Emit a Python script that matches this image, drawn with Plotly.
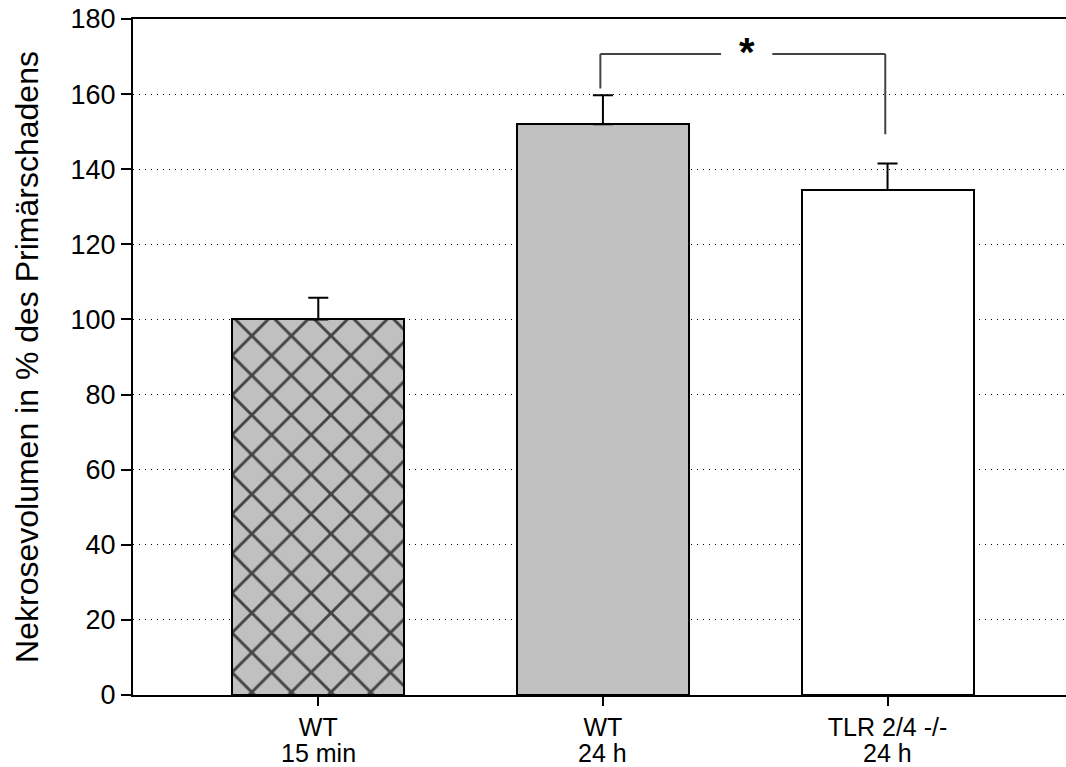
import plotly.graph_objects as go

# Group labels and measurements
groups = ["WT", "WT", "TLR 2/4 -/-"]
timepoints = ["15 min", "24 h", "24 h"]
means = [100.0, 152.0, 134.5]
sem_up = [5.8, 7.7, 7.0]
fills = ["#c0c0c0", "#c0c0c0", "#ffffff"]
patterns = ["x", "", ""]
y_ticks = [0, 20, 40, 60, 80, 100, 120, 140, 160, 180]

# Significance bracket between WT 24 h and TLR 2/4 -/- 24 h
bracket_top = 170.7
bracket_left_end = 161.5
bracket_right_end = 149.3
sig_label = "*"

xpos = list(range(len(groups)))
font_family = "Liberation Sans, Arial"

fig = go.Figure()
fig.add_trace(go.Bar(
    x=xpos,
    y=means,
    width=0.604,
    marker=dict(
        color=fills,
        line=dict(color="black", width=2),
        pattern=dict(shape=patterns, fgcolor="black", bgcolor=fills, fgopacity=1,
                     size=28, solidity=0.2, fillmode="overlay"),
    ),
    error_y=dict(type="data", array=sem_up, arrayminus=[0] * len(means),
                 symmetric=False, color="black", thickness=2, width=10),
    showlegend=False,
))

line_style = dict(color="#444444", width=2)
xl, xr = 0.991, 1.992
gap_l, gap_r = 1.415, 1.595
shapes = [
    dict(type="line", xref="x", yref="y", x0=xl, x1=xl, y0=bracket_left_end, y1=bracket_top, line=line_style),
    dict(type="line", xref="x", yref="y", x0=xl, x1=gap_l, y0=bracket_top, y1=bracket_top, line=line_style),
    dict(type="line", xref="x", yref="y", x0=gap_r, x1=xr, y0=bracket_top, y1=bracket_top, line=line_style),
    dict(type="line", xref="x", yref="y", x0=xr, x1=xr, y0=bracket_right_end, y1=bracket_top, line=line_style),
]

fig.add_annotation(
    x=(gap_l + gap_r) / 2, y=bracket_top, xref="x", yref="y",
    text="<b>" + sig_label + "</b>", showarrow=False,
    font=dict(family=font_family, size=40, color="black"),
    yshift=2,
)

# Second line of each category label (time point)
for xp, tp in zip(xpos, timepoints):
    fig.add_annotation(
        x=xp, y=0, xref="x", yref="paper", yanchor="top",
        text=tp, showarrow=False, yshift=-42,
        font=dict(family=font_family, size=25, color="black"),
    )

fig.update_layout(
    width=1066, height=767,
    margin=dict(l=133, r=0, t=19, b=72),
    paper_bgcolor="white", plot_bgcolor="white",
    font=dict(family=font_family, size=26, color="black"),
    shapes=shapes,
    bargap=0,
)
fig.update_xaxes(
    range=[-0.651, 2.627],
    tickmode="array", tickvals=xpos, ticktext=groups,
    ticks="outside", ticklen=9, tickwidth=2, tickcolor="black",
    showline=True, linecolor="black", linewidth=2, mirror=True,
    showgrid=False, zeroline=False, automargin=False,
    tickfont=dict(size=25),
)
fig.update_yaxes(
    range=[0, 180],
    tickmode="array", tickvals=y_ticks,
    ticks="outside", ticklen=10, tickwidth=2, tickcolor="black",
    showline=True, linecolor="black", linewidth=2,
    showgrid=True, gridcolor="black", gridwidth=1, griddash="1px,5px",
    zeroline=False, automargin=False,
    tickfont=dict(size=27),
    title=dict(text="Nekrosevolumen in % des Primärschadens", font=dict(size=32), standoff=22),
)

fig.write_html("out.html")
